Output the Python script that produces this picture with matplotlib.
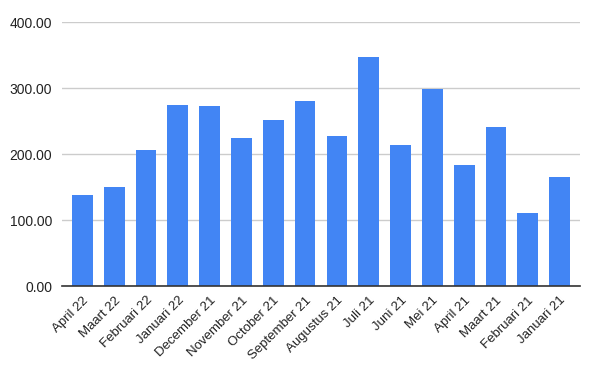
import matplotlib
matplotlib.use("Agg")
import matplotlib.pyplot as plt

categories = ["April 22", "Maart 22", "Februari 22", "Januari 22", "December 21",
              "November 21", "October 21", "September 21", "Augustus 21", "Juli 21",
              "Juni 21", "Mei 21", "April 21", "Maart 21", "Februari 21", "Januari 21"]
values = [137.9, 149.5, 205.6, 274.2, 272.7, 224.2, 251.5, 280.3, 227.3, 347.0,
          213.6, 298.5, 183.3, 240.9, 110.6, 165.2]
yticks = [0, 100, 200, 300, 400]

plt.rcParams['font.family'] = ['Liberation Sans', 'DejaVu Sans']
fig = plt.figure(figsize=(5.93, 3.67), dpi=100)
ax = fig.add_axes([62/593, 1-286/367, (580-62)/593, (286-22)/367])
x = list(range(len(categories)))
ax.bar(x, values, width=0.65, color="#4285F4", zorder=3)
ax.set_xlim(-0.64, len(categories)-1+0.64)
ax.set_ylim(0, 400)
ax.set_yticks(yticks)
ax.set_yticklabels([f"{v:.2f}" for v in yticks], fontsize=10, color="#222222")
ax.set_xticks(x)
ax.set_xticklabels(categories, rotation=45, ha="right", rotation_mode="anchor", fontsize=9.5, color="#222222")
ax.grid(axis="y", color="#cccccc", linewidth=1, zorder=0)
for s in ["top", "right", "left"]:
    ax.spines[s].set_visible(False)
ax.spines["bottom"].set_color("#333333")
ax.spines["bottom"].set_linewidth(1.2)
ax.spines["bottom"].set_zorder(4)
ax.tick_params(axis="both", length=0)
ax.tick_params(axis="y", pad=7)
ax.tick_params(axis="x", pad=6)
fig.savefig("out.png", dpi=100)
